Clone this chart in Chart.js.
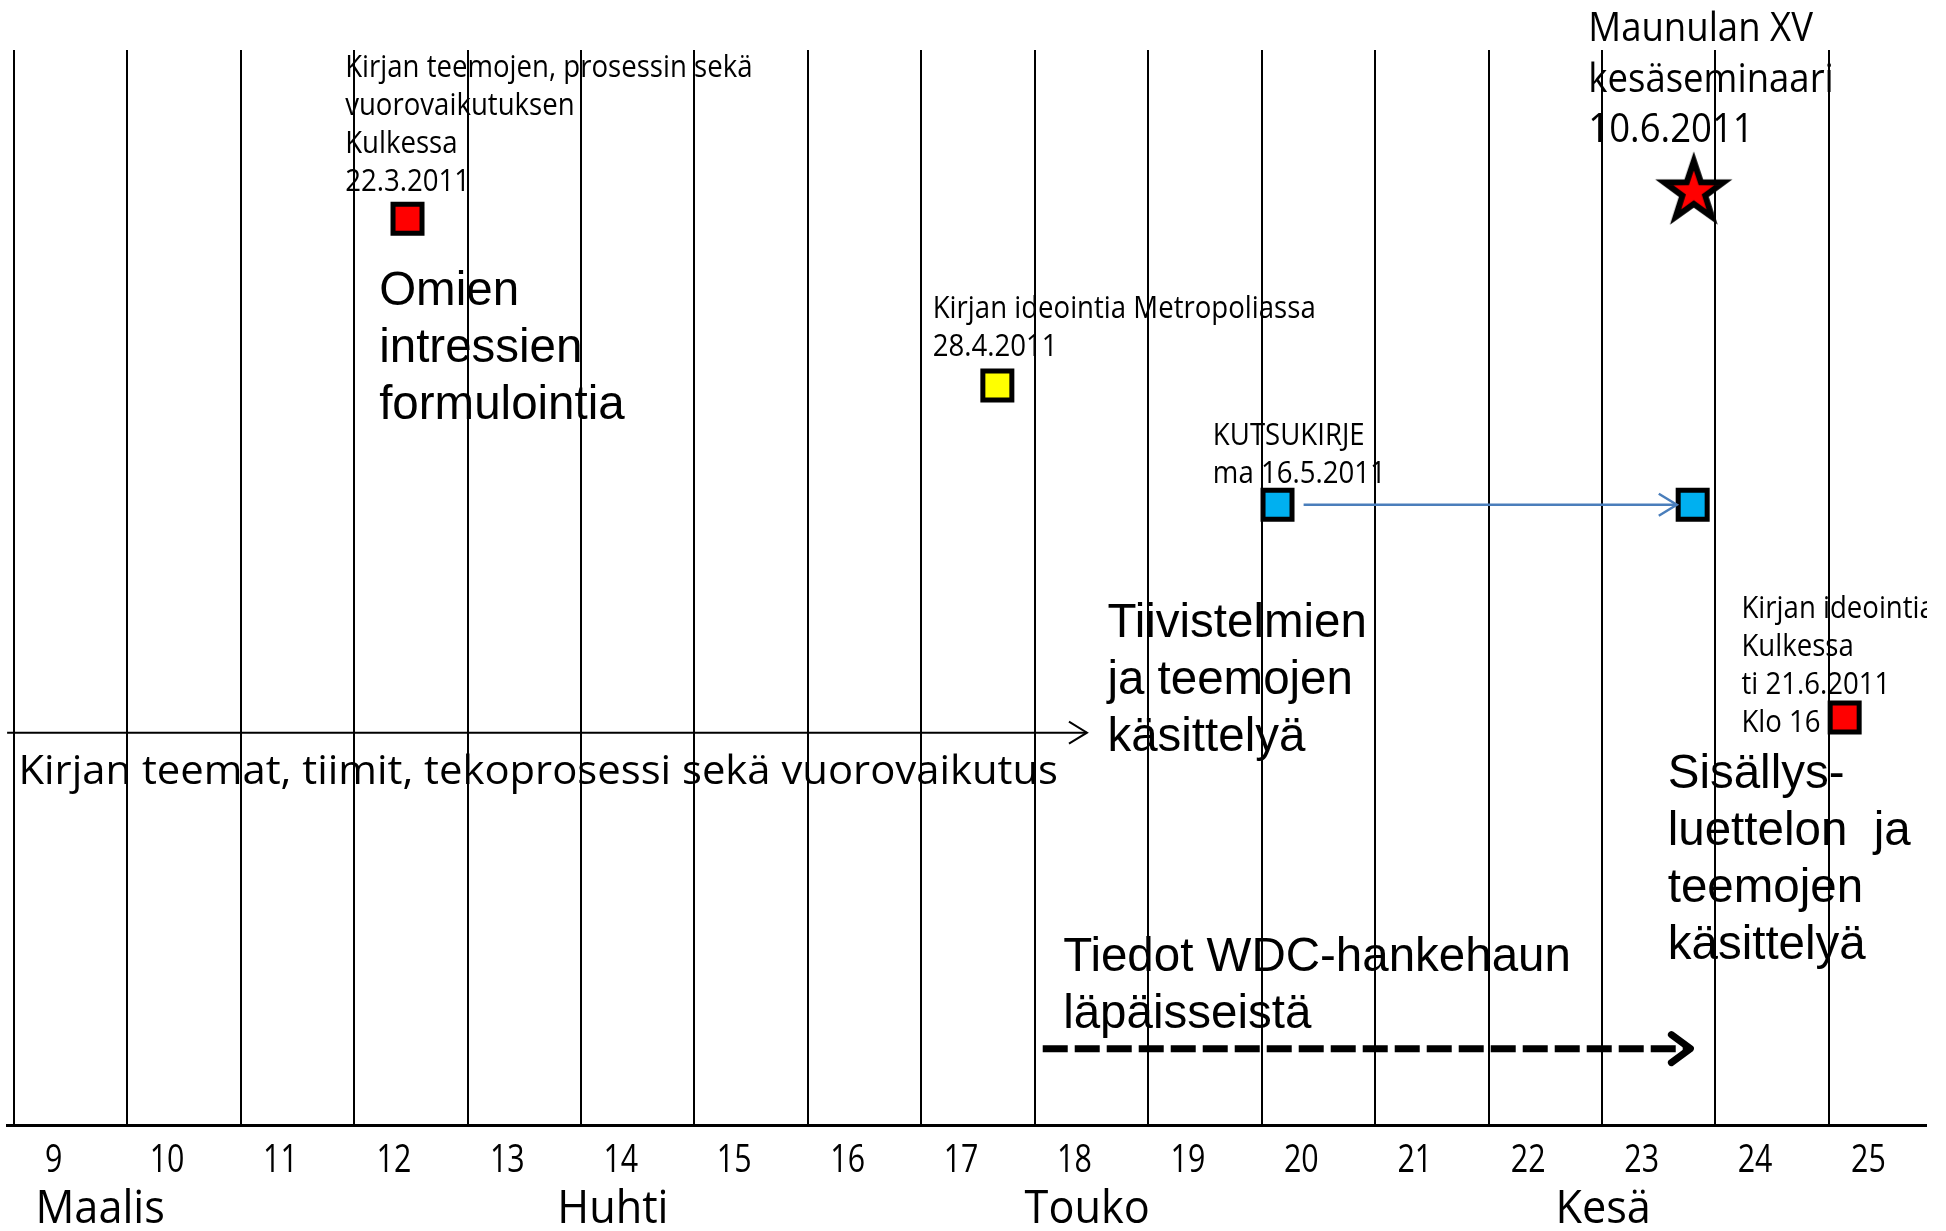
<!DOCTYPE html>
<html>
<head>
<meta charset="utf-8">
<script src="https://cdn.jsdelivr.net/npm/chart.js@4.4.1/dist/chart.umd.min.js"></script>
<style>
  html, body { margin: 0; padding: 0; background: #fff; overflow: hidden; }
  #wrap { width: 1946px; height: 1231px; }
</style>
</head>
<body>
<div id="wrap"><canvas id="timeline" width="1946" height="1231"></canvas></div>
<script>
// week numbers under the axis, month names below them
const weeks = [9, 10, 11, 12, 13, 14, 15, 16, 17, 18, 19, 20, 21, 22, 23, 24, 25];
const months = ['Maalis', 'Huhti', 'Touko', 'Kesä'];

// events: x = week (fractional), y = height on a 0..100 scale
const redEvents = [{x: 12.12, y: 84.3}, {x: 24.79, y: 37.9}];
const yellowEvents = [{x: 17.32, y: 68.8}];
const blueEvents = [{x: 19.79, y: 57.7}, {x: 23.45, y: 57.7}];
const starEvents = [{x: 23.46, y: 86.8}];

// arrows, start and end
const themesArrow = [{x: 8.59, y: 36.5}, {x: 18.11, y: 36.5}];
const inviteArrow = [{x: 20.02, y: 57.7}, {x: 23.31, y: 57.7}];
const wdcArrow = [{x: 17.72, y: 7.1}, {x: 23.43, y: 7.1}];

// ---- layout (not data) ----
const gridStart = 8.65;           // first vertical line, weeks are offset from the lines
const weekLabelY = -4.4;
const monthLabelY = -9.1;
const monthAt = [8.84, 13.44, 17.56, 22.24];

const styles = {
  small:  {font: '31px "Open Sans"', sx: 0.89, lh: 38},
  title:  {font: '40.6px "Open Sans"', sx: 0.9, lh: 50.5},
  big:    {font: '47.5px "Liberation Sans", Arial', sx: 1, lh: 57},
  banner: {font: '40.6px "Open Sans"', sx: 1.03, lh: 40},
  week:   {font: '38px "Open Sans"', sx: 0.8},
  month:  {font: '46px "Open Sans"', sx: 0.94}
};

const notes = [
  {x: 11.57, y: 97.5, style: 'small', lines: ['Kirjan teemojen, prosessin sekä', 'vuorovaikutuksen', 'Kulkessa', '22.3.2011']},
  {x: 11.87, y: 76.3, style: 'big', lines: ['Omien', 'intressien', 'formulointia']},
  {x: 16.75, y: 75.1, style: 'small', lines: ['Kirjan ideointia Metropoliassa', '28.4.2011']},
  {x: 19.22, y: 63.3, style: 'small', lines: ['KUTSUKIRJE', 'ma 16.5.2011']},
  {x: 22.53, y: 100.8, style: 'title', lines: ['Maunulan XV', 'kesäseminaari', '10.6.2011']},
  {x: 18.29, y: 45.4, style: 'big', lines: ['Tiivistelmien', 'ja teemojen', 'käsittelyä']},
  {x: 8.69, y: 31.7, style: 'banner', lines: ['Kirjan teemat, tiimit, tekoprosessi sekä vuorovaikutus']},
  {x: 23.88, y: 47.2, style: 'small', lines: ['Kirjan ideointia', 'Kulkessa', 'ti 21.6.2011', 'Klo 16']},
  {x: 23.23, y: 31.35, style: 'big', lines: ['Sisällys-', 'luettelon  ja', 'teemojen', 'käsittelyä']},
  {x: 17.9, y: 14.3, style: 'big', lines: ['Tiedot WDC-hankehaun', 'läpäisseistä']}
];

function makeStar() {
  const c = document.createElement('canvas');
  c.width = 100; c.height = 100;
  const g = c.getContext('2d');
  g.beginPath();
  for (let i = 0; i < 10; i++) {
    const r = i % 2 ? 12 : 31;
    const a = -Math.PI / 2 + i * Math.PI / 5;
    g.lineTo(50 + r * Math.cos(a), 50 + r * Math.sin(a));
  }
  g.closePath();
  g.fillStyle = '#ff0000';
  g.fill();
  g.lineWidth = 6;
  g.lineJoin = 'miter';
  g.miterLimit = 12;
  g.strokeStyle = '#000';
  g.stroke();
  return c;
}

function drawText(ctx, lines, px, py, st, align) {
  ctx.save();
  ctx.font = st.font;
  ctx.fillStyle = '#000';
  ctx.textBaseline = 'alphabetic';
  ctx.textAlign = align || 'left';
  lines.forEach((t, i) => {
    ctx.save();
    ctx.translate(px, py + i * (st.lh || 0));
    ctx.scale(st.sx, 1);
    ctx.fillText(t, 0, 0);
    ctx.restore();
  });
  ctx.restore();
}

const timelinePlugin = {
  id: 'timeline',
  afterDatasetsDraw(chart) {
    const ctx = chart.ctx;
    const x = chart.scales.x, y = chart.scales.y;

    // arrow heads on the line datasets
    chart.data.datasets.forEach((ds, i) => {
      if (!ds.arrowHead) return;
      const pts = chart.getDatasetMeta(i).data;
      const a = pts[pts.length - 2], b = pts[pts.length - 1];
      const ang = Math.atan2(b.y - a.y, b.x - a.x);
      const h = ds.arrowHead;
      ctx.save();
      ctx.translate(b.x, b.y);
      ctx.rotate(ang);
      ctx.beginPath();
      ctx.moveTo(-h.len, -h.half);
      ctx.lineTo(0, 0);
      ctx.lineTo(-h.len, h.half);
      ctx.setLineDash([]);
      ctx.strokeStyle = ds.borderColor;
      ctx.lineWidth = h.width;
      ctx.lineCap = h.cap || 'butt';
      ctx.lineJoin = h.cap === 'round' ? 'round' : 'miter';
      ctx.stroke();
      ctx.restore();
    });

    // the slide is cut at the end of the axis
    ctx.save();
    ctx.beginPath();
    ctx.rect(0, 0, chart.chartArea.right + 1, chart.height);
    ctx.clip();
    weeks.forEach(w => {
      drawText(ctx, [String(w)], x.getPixelForValue(w), y.getPixelForValue(weekLabelY), styles.week, 'center');
    });
    months.forEach((m, i) => {
      drawText(ctx, [m], x.getPixelForValue(monthAt[i]), y.getPixelForValue(monthLabelY), styles.month);
    });
    notes.forEach(n => {
      drawText(ctx, n.lines, x.getPixelForValue(n.x), y.getPixelForValue(n.y), styles[n.style]);
    });
    ctx.restore();
  }
};

const squareStyle = {pointStyle: 'rect', pointRadius: 20.5, borderColor: '#000', borderWidth: 5};

new Chart(document.getElementById('timeline'), {
  type: 'scatter',
  data: {
    datasets: [
      {type: 'line', data: themesArrow, borderColor: '#000', borderWidth: 2, pointRadius: 0, fill: false, order: 2,
        arrowHead: {len: 18, half: 11, width: 2}},
      {type: 'line', data: inviteArrow, borderColor: '#4a7ebb', borderWidth: 2.5, pointRadius: 0, fill: false, order: 2,
        arrowHead: {len: 18, half: 11, width: 2.5}},
      {type: 'line', data: wdcArrow, borderColor: '#000', borderWidth: 7, borderDash: [25, 7], pointRadius: 0, fill: false, order: 2,
        arrowHead: {len: 19, half: 14, width: 7, cap: 'round'}},
      Object.assign({data: redEvents, backgroundColor: '#ff0000', order: 1}, squareStyle),
      Object.assign({data: yellowEvents, backgroundColor: '#ffff00', order: 1}, squareStyle),
      Object.assign({data: blueEvents, backgroundColor: '#00b0f0', order: 1}, squareStyle),
      {data: starEvents, pointStyle: makeStar(), pointRadius: 10, order: 1}
    ]
  },
  options: {
    responsive: false,
    animation: false,
    devicePixelRatio: 1,
    events: [],
    layout: {autoPadding: false, padding: {left: 7, right: 20, top: 50, bottom: 106}},
    plugins: {legend: {display: false}, tooltip: {enabled: false}},
    scales: {
      x: {
        type: 'linear',
        min: 8.589,
        max: 25.507,
        afterBuildTicks(scale) {
          scale.ticks = weeks.map((w, i) => ({value: gridStart + i}));
        },
        ticks: {display: false},
        grid: {color: '#000', lineWidth: 2, drawTicks: false},
        border: {display: true, color: '#000', width: 3}
      },
      y: {
        type: 'linear',
        min: 0,
        max: 100,
        display: false
      }
    }
  },
  plugins: [timelinePlugin]
});
</script>
</body>
</html>
